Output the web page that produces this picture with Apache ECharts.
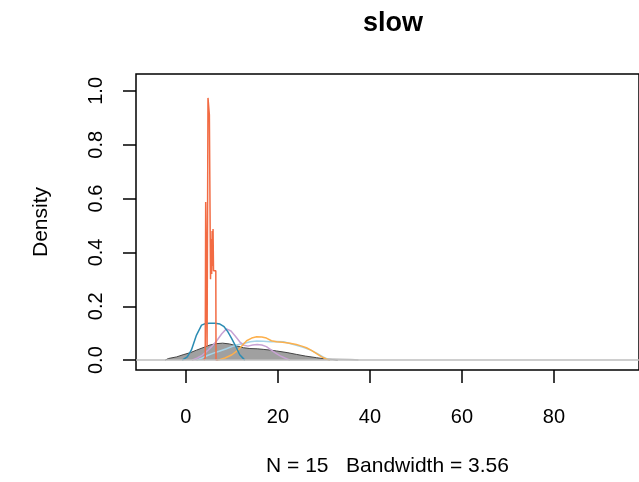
<!DOCTYPE html>
<html>
<head>
<meta charset="utf-8">
<script src="https://cdn.jsdelivr.net/npm/echarts@6/dist/echarts.min.js"></script>
<style>html,body{margin:0;padding:0;background:#fff}#c{width:639px;height:482px}</style>
</head>
<body>
<div id="c"></div>
<script>
var xTicks = [0, 20, 40, 60, 80];
var yTicks = [0, 0.2, 0.4, 0.6, 0.8, 1.0];

var grayX = [-4.5, -3.8, -2, -0.6, 1, 2.3, 4, 5.2, 6.5, 8.0, 9.5, 11, 12.5, 13.9, 15.5, 16.8, 18.5, 19.7, 22, 24.1, 26, 28.4, 30, 31.5, 33];
var grayY = [0, 0.006, 0.012, 0.02, 0.028, 0.037, 0.048, 0.056, 0.061, 0.063, 0.060, 0.053, 0.046, 0.043, 0.042, 0.040, 0.037, 0.034, 0.028, 0.021, 0.015, 0.009, 0.005, 0.003, 0];

var tailX = [30, 32, 34, 36, 37.5];
var tailY = [0.004, 0.004, 0.003, 0.002, 0];

var tealX = [-0.8, 0.3, 1.2, 2.3, 3.4, 4.3, 5.2, 6.3, 7.4, 8.3, 9.1, 9.9, 10.7, 11.7, 12.8];
var tealY = [0, 0.012, 0.038, 0.093, 0.13, 0.136, 0.137, 0.137, 0.134, 0.124, 0.106, 0.082, 0.056, 0.02, 0];

var lilacX = [1.3, 2.5, 3.5, 4.5, 5.6, 6.7, 7.8, 8.8, 9.8, 10.8, 11.7, 12.6, 13.5, 14.5, 15.5, 16.5, 17.5, 18.5, 19.5, 20.5, 21.5, 22.6];
var lilacY = [0, 0.008, 0.018, 0.032, 0.05, 0.072, 0.098, 0.116, 0.108, 0.088, 0.068, 0.055, 0.052, 0.056, 0.058, 0.056, 0.05, 0.038, 0.026, 0.016, 0.008, 0];

var blueX = [2.3, 3.5, 4.8, 6, 7.4, 8.8, 10, 11, 12.5, 14, 15.4, 16.8, 18.3, 19.7, 21.2, 22.6, 24, 25.5, 27, 28.4, 29.8, 31.3];
var blueY = [0, 0.008, 0.018, 0.026, 0.034, 0.042, 0.05, 0.056, 0.062, 0.068, 0.071, 0.07, 0.068, 0.069, 0.068, 0.062, 0.055, 0.048, 0.038, 0.026, 0.012, 0];

var orangeX = [7, 8.5, 10, 11.2, 12.3, 13.2, 14.3, 15.4, 16.5, 17.5, 18.6, 19.7, 21, 22.6, 24, 25.2, 26.2, 27.3, 28.4, 29.5, 30.5, 31.3];
var orangeY = [0, 0.008, 0.02, 0.035, 0.055, 0.072, 0.082, 0.087, 0.086, 0.082, 0.072, 0.068, 0.066, 0.063, 0.058, 0.052, 0.046, 0.036, 0.024, 0.012, 0.004, 0];

var redX = [3.9, 4.2, 4.3, 4.5, 4.6, 4.75, 4.8, 5.0, 5.1, 5.3, 5.35, 5.5, 5.6, 5.7, 5.8, 5.9, 6.0, 6.2, 6.3, 6.5, 6.55, 7.0];
var redY = [0, 0.01, 0.587, 0.587, 0.05, 0.05, 0.974, 0.974, 0.911, 0.911, 0.30, 0.45, 0.32, 0.48, 0.35, 0.487, 0.332, 0.332, 0.332, 0.332, 0.0, 0];

function pairs(xs, ys) { return xs.map(function (x, i) { return [x, ys[i]]; }); }

var FONT = 'Liberation Sans';
function lineSeries(name, xs, ys, color, width, extra) {
  var s = {
    name: name, type: 'line', data: pairs(xs, ys), showSymbol: false, symbol: 'none',
    lineStyle: { color: color, width: width }, silent: true, animation: false, z: 3
  };
  for (var k in extra) s[k] = extra[k];
  return s;
}

var chart = echarts.init(document.getElementById('c'), null, { renderer: 'canvas' });
chart.setOption({
  backgroundColor: '#ffffff',
  animation: false,
  title: {
    text: 'slow', left: 388, top: 5, textAlign: 'center',
    textStyle: { fontFamily: FONT, fontSize: 27, fontWeight: 'bold', color: '#000' }
  },
  grid: { left: 136, top: 74, right: -1, bottom: 110, show: true, borderColor: '#000', borderWidth: 1.5, backgroundColor: 'transparent' },
  xAxis: {
    type: 'value', min: -10.85, max: 98.5,
    name: 'N = 15   Bandwidth = 3.56', nameLocation: 'middle', nameGap: 86,
    nameTextStyle: { fontFamily: FONT, fontSize: 21, color: '#000' },
    axisLine: { show: false, onZero: false },
    axisTick: { show: true, inside: false, length: 13, lineStyle: { color: '#000', width: 1.5 }, customValues: xTicks },
    axisLabel: { fontFamily: FONT, fontSize: 20, color: '#000', margin: 37, customValues: xTicks },
    splitLine: { show: false }
  },
  yAxis: {
    type: 'value', min: -0.0367, max: 1.0627,
    name: 'Density', nameLocation: 'middle', nameGap: 84, nameRotate: 90,
    nameTextStyle: { fontFamily: FONT, fontSize: 21, color: '#000' },
    axisLine: { show: false, onZero: false },
    axisTick: { show: true, inside: false, length: 13, lineStyle: { color: '#000', width: 1.5 }, customValues: yTicks },
    axisLabel: { fontFamily: FONT, fontSize: 20, color: '#000', margin: 30, rotate: 90, customValues: yTicks,
      formatter: function (v) { return v.toFixed(1); } },
    splitLine: { show: false }
  },
  series: [
    lineSeries('gray', grayX, grayY, '#444444', 1, {
      areaStyle: { color: '#a0a0a0', opacity: 1 }, z: 2,
      markLine: { silent: true, symbol: 'none', label: { show: false }, animation: false,
        lineStyle: { color: '#bebebe', width: 1.5, type: 'solid' }, data: [{ yAxis: 0 }] }
    }),
    lineSeries('tail', tailX, tailY, '#c4c4c4', 1.5),
    lineSeries('blue', blueX, blueY, '#a6d3e8', 1.5),
    lineSeries('lilac', lilacX, lilacY, '#c8a2d4', 1.5),
    lineSeries('orange', orangeX, orangeY, '#fdb04c', 1.5),
    lineSeries('teal', tealX, tealY, '#2b8cb3', 1.5),
    lineSeries('red', redX, redY, '#f26b43', 1.5)
  ]
});
</script>
</body>
</html>
